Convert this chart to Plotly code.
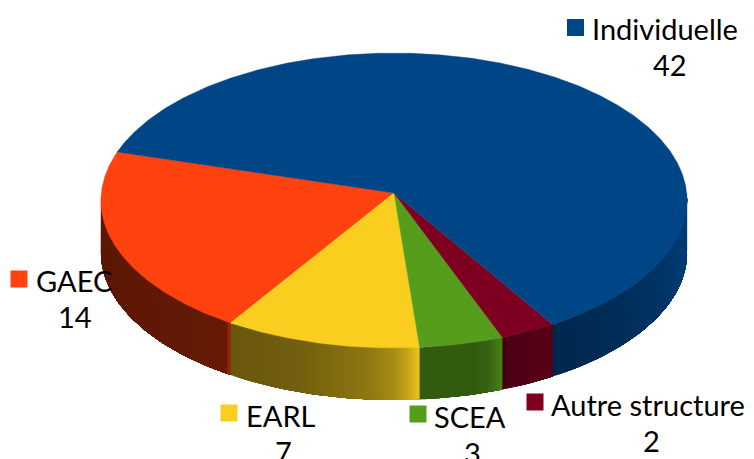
import numpy as np
import plotly.graph_objects as go

categories = ["Individuelle", "GAEC", "EARL", "SCEA", "Autre structure"]
values = [42, 14, 7, 3, 2]
colors = ["#004586", "#ff420e", "#f9ce1e", "#579d1c", "#7e0021"]

# projection of the pie disc (perspective tilt)
CX, CY, A, B, K, DEPTH = 394, 193, 292.7, 147.1, 0.0509, 52
START_DEG = 163.6  # Individuelle ends here; other slices run counter-clockwise from it

# side-wall shading: (pixel x, brightness) control points for each slice
wall_shades = {
    "Individuelle": [(552, 0.54), (556, 0.58), (620, 0.66), (660, 0.76), (687, 0.88)],
    "GAEC": [(100, 0.36), (225, 0.40), (228, 0.45), (230, 0.70)],
    "EARL": [(230, 0.42), (300, 0.46), (370, 0.58), (395, 0.68), (408, 0.80), (417, 0.92)],
    "SCEA": [(417, 0.58), (475, 0.58), (488, 0.62), (500, 0.80)],
    "Autre structure": [(500, 0.45), (510, 0.62), (552, 0.70)],
}

label_layout = {
    "Individuelle": (575.5, 27.5, 590, 28.5, 670, 64),
    "GAEC": (19, 279, 34, 280.5, 75, 316),
    "EARL": (229, 413, 244, 415.5, 283, 451),
    "SCEA": (418, 414, 432, 416.5, 472, 452),
    "Autre structure": (535, 402, 549, 404.5, 651, 440),
}

FONT = "Lato"
FS = 29


def pt(deg, dz=0.0):
    a = np.radians(deg)
    u, v = np.cos(a), np.sin(a)
    d = 1 + K * v
    return CX + A * u / d, CY - B * v / d + dz


def shade(hex_color, f):
    rgb = [int(hex_color[i:i + 2], 16) for i in (1, 3, 5)]
    return "rgb(%d,%d,%d)" % tuple(round(c * f) for c in rgb)


total = sum(values)
order = categories[1:] + categories[:1]
spans = {}
a0 = START_DEG
for name in order:
    sweep = values[categories.index(name)] / total * 360
    spans[name] = (a0, a0 + sweep)
    a0 += sweep

fig = go.Figure()

# side walls: painted from each slice's start, every step covering the remainder
for name in order:
    col = colors[categories.index(name)]
    lo, hi = spans[name]
    xs_ctl, fs_ctl = zip(*wall_shades[name])
    lo2, hi2 = max(lo, 180), min(hi, 360)
    if hi2 <= lo2:
        continue
    n = max(2, int((hi2 - lo2) / 0.7))
    edges = np.linspace(lo2, hi2, n + 1)
    for e0, e1 in zip(edges[:-1], edges[1:]):
        th = np.linspace(e0, hi2, max(2, int(hi2 - e0) + 2))
        xt, yt = pt(th)
        xb, yb = pt(th[::-1], DEPTH)
        x0, _ = pt(e0)
        x1, _ = pt(e1)
        c = shade(col, float(np.interp((x0 + x1) / 2, xs_ctl, fs_ctl)))
        fig.add_trace(go.Scatter(
            x=np.r_[xt, xb, xt[0]], y=np.r_[yt, yb, yt[0]],
            mode="lines", fill="toself", fillcolor=c,
            line=dict(color=c, width=0), hoverinfo="skip", showlegend=False))

# top faces
for name in order:
    col = colors[categories.index(name)]
    lo, hi = spans[name]
    th = np.linspace(lo, hi, max(3, int(hi - lo) * 2))
    px, py = pt(th)
    fig.add_trace(go.Scatter(
        x=np.r_[CX, px, CX], y=np.r_[CY, py, CY],
        mode="lines", fill="toself", fillcolor=col,
        line=dict(color=col, width=0.4), hoverinfo="skip", showlegend=False))

# legend-style keys
for name in categories:
    mx, my, *_ = label_layout[name]
    fig.add_trace(go.Scatter(
        x=[mx], y=[my], mode="markers", hoverinfo="skip", showlegend=False,
        marker=dict(symbol="square", size=17, color=colors[categories.index(name)], line=dict(width=0)),
        cliponaxis=False))

annotations = []
for name, v in zip(categories, values):
    _, _, tx, ty, vx, vy = label_layout[name]
    annotations.append(dict(x=tx, y=ty, text=name, xanchor="left", yanchor="middle",
                            showarrow=False, xref="x", yref="y",
                            font=dict(family=FONT, size=FS, color="#000000")))
    annotations.append(dict(x=vx, y=vy, text=str(v), xanchor="center", yanchor="middle",
                            showarrow=False, xref="x", yref="y",
                            font=dict(family=FONT, size=FS, color="#000000")))

fig.update_layout(
    width=754, height=459, margin=dict(l=0, r=0, t=0, b=0, pad=0),
    paper_bgcolor="#ffffff", plot_bgcolor="#ffffff", showlegend=False,
    xaxis=dict(range=[0, 754], visible=False, fixedrange=True),
    yaxis=dict(range=[459, 0], visible=False, fixedrange=True),
    annotations=annotations,
)
fig.write_html("out.html", config={"displayModeBar": False},
               default_width="754px", default_height="459px",
               post_script="document.body.style.margin='0';document.body.style.overflow='hidden';")
